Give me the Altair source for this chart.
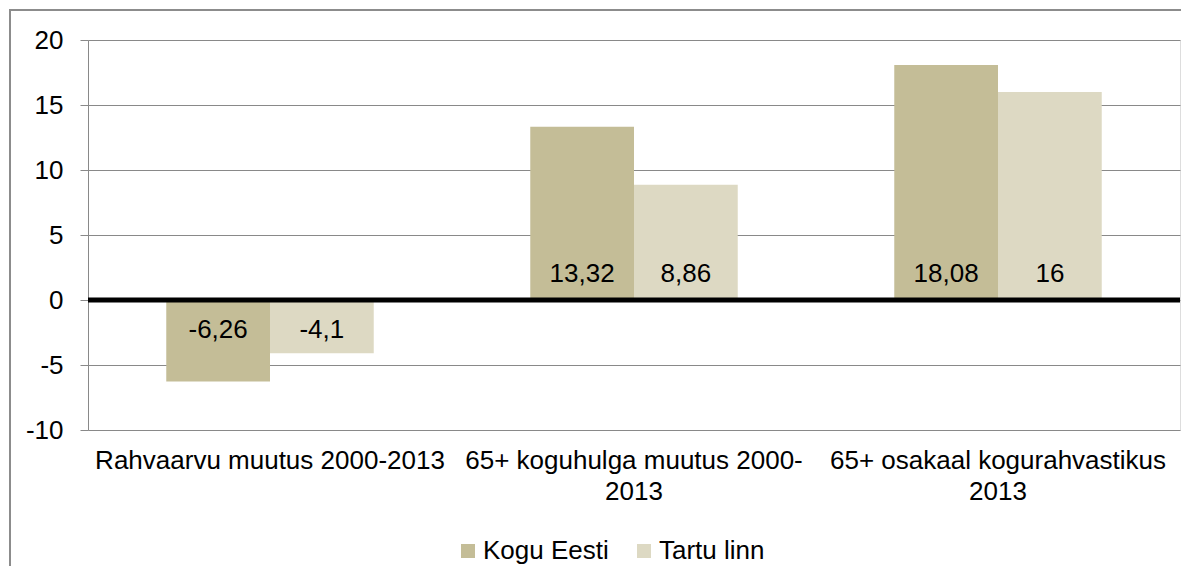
import altair as alt
import pandas as pd

categories = ["Rahvaarvu muutus 2000-2013", "65+ koguhulga muutus 2000-2013", "65+ osakaal kogurahvastikus 2013"]
label_lines = [["Rahvaarvu muutus 2000-2013"], ["65+ koguhulga muutus 2000-", "2013"], ["65+ osakaal kogurahvastikus", "2013"]]
series = ["Kogu Eesti", "Tartu linn"]
kogu_eesti = [-6.26, 13.32, 18.08]
tartu_linn = [-4.1, 8.86, 16]
colors = ["#C4BD97", "#DDD9C3"]
y_ticks = [-10, -5, 0, 5, 10, 15, 20]

rows = []
for i, c in enumerate(categories):
    rows.append({"category": c, "series": series[0], "value": kogu_eesti[i]})
    rows.append({"category": c, "series": series[1], "value": tartu_linn[i]})
df = pd.DataFrame(rows)

FONT = "Liberation Sans"
GRID = "#898989"
FS = 26

label_expr = ""
for c, lines in zip(categories, label_lines):
    arr = "[" + ",".join("'" + l + "'" for l in lines) + "]"
    label_expr += f"datum.value == '{c}' ? {arr} : "
label_expr += "datum.label"

x_enc = alt.X(
    "category:N", sort=categories, title=None,
    scale=alt.Scale(paddingInner=0.43, paddingOuter=0.215),
    axis=alt.Axis(labelExpr=label_expr, labelAngle=0, labelFontSize=FS, labelFont=FONT,
                  labelColor="black", labelLineHeight=31, labelLimit=500, labelOverlap=False,
                  ticks=False, domain=False, labelPadding=17, labelBaseline="top", grid=False),
)
xoff = alt.XOffset("series:N", sort=series, scale=alt.Scale(paddingInner=0, paddingOuter=0))
y_scale = alt.Scale(domain=[-10, 20], nice=False, zero=False)

base = alt.Chart(df)

bars = base.mark_bar().encode(
    x=x_enc,
    xOffset=xoff,
    y=alt.Y("value:Q", scale=y_scale, title=None,
            axis=alt.Axis(values=y_ticks, labelExpr="toString(datum.value)", labelFontSize=FS,
                          labelFont=FONT, labelColor="black", tickSize=8, tickColor=GRID,
                          domainColor=GRID, gridColor=GRID, gridWidth=1.2, labelPadding=17,
                          grid=True)),
    color=alt.Color("series:N", sort=series, scale=alt.Scale(domain=series, range=colors),
                    legend=alt.Legend(title=None, orient="none", direction="horizontal",
                                      legendX=367, legendY=498, symbolType="square",
                                      symbolSize=196, symbolStrokeWidth=0, labelFontSize=FS,
                                      labelFont=FONT, labelColor="black", labelOffset=2,
                                      columnPadding=22, padding=0)),
)

zero = alt.Chart(pd.DataFrame({"z": [0]})).mark_rule(color="black", strokeWidth=5).encode(
    y=alt.Y("z:Q", scale=y_scale)
)

labels = base.transform_calculate(
    base="0", lab="replace(toString(datum.value), '.', ',')"
)
pos_text = labels.transform_filter("datum.value >= 0").mark_text(
    fontSize=FS, font=FONT, color="black", baseline="alphabetic", dy=-18
).encode(x=x_enc, xOffset=xoff, y=alt.Y("base:Q", scale=y_scale), text="lab:N")
neg_text = labels.transform_filter("datum.value < 0").mark_text(
    fontSize=FS, font=FONT, color="black", baseline="alphabetic", dy=38
).encode(x=x_enc, xOffset=xoff, y=alt.Y("base:Q", scale=y_scale), text="lab:N")

border = alt.Chart(pd.DataFrame({"b": [0]})).mark_rect(
    fill=None, fillOpacity=0, stroke="#8c8c8c", strokeWidth=2
).encode(x=alt.value(-78), x2=alt.value(1300), y=alt.value(-30), y2=alt.value(700))

chart = alt.layer(border, bars, zero, pos_text, neg_text).properties(
    width=1092, height=390,
    autosize=alt.AutoSizeParams(type="none"),
    padding={"left": 80, "top": 32, "right": 1, "bottom": 136},
).configure_view(stroke=None).configure(background="white")

chart.save("out.html", embed_options={"renderer": "svg", "actions": False})
